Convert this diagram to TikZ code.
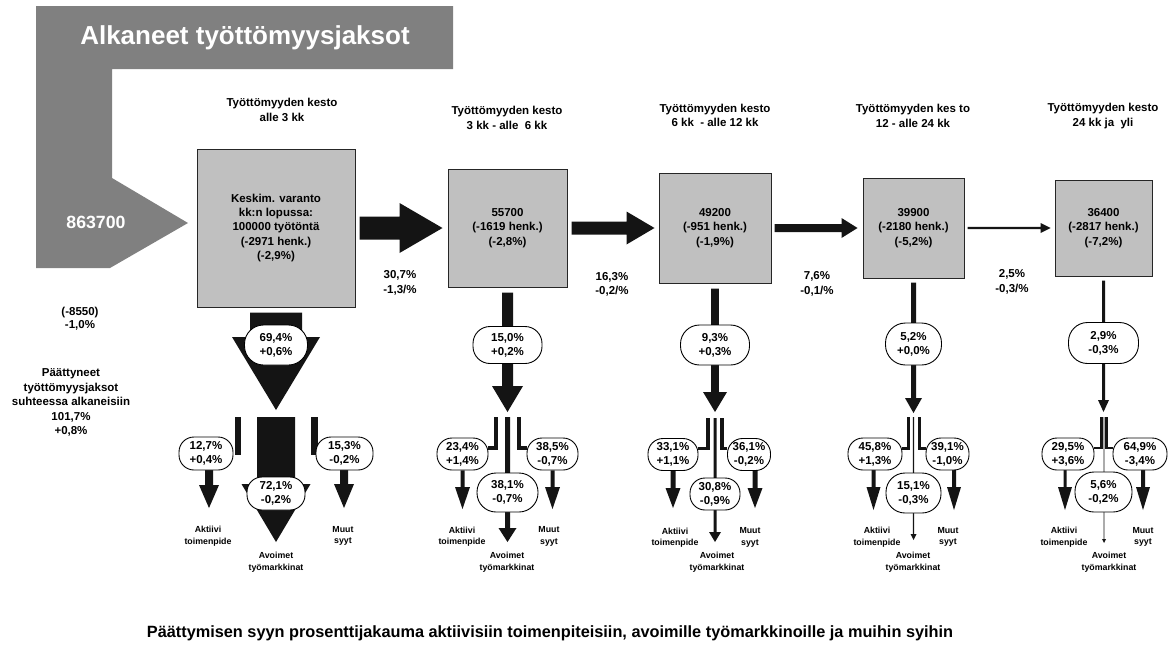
\documentclass[tikz,border=0pt]{standalone}
\usepackage{fontspec}
\setmainfont{Liberation Sans}
\usetikzlibrary{calc}
\pgfdeclarelayer{bottom}
\pgfdeclarelayer{background}
\pgfsetlayers{bottom,background,main}
\definecolor{biggray}{RGB}{128,128,128}
\definecolor{boxgray}{RGB}{192,192,192}
\definecolor{flowblack}{RGB}{20,20,20}
\newcommand{\rarrow}[5]{\fill[flowblack] ($(#1)+(0,-#3)$) -- ($(#2)+(-#5,-#3)$) -- ($(#2)+(-#5,-#4)$) -- (#2) -- ($(#2)+(-#5,#4)$) -- ($(#2)+(-#5,#3)$) -- ($(#1)+(0,#3)$) -- cycle;}
\newcommand{\darrow}[5]{\fill[flowblack] ($(#1)+(-#3,0)$) -- ($(#2)+(-#3,-#5)$) -- ($(#2)+(-#4,-#5)$) -- (#2) -- ($(#2)+(#4,-#5)$) -- ($(#2)+(#3,-#5)$) -- ($(#1)+(#3,0)$) -- cycle;}
\tikzset{
  txt/.style={font=\fontsize{11.5}{14.5}\selectfont\bfseries, align=center, inner sep=0pt},
  smalltxt/.style={font=\fontsize{8.8}{11.5}\selectfont\bfseries, align=center, inner sep=0pt},
  stockbox/.style={draw=black!85, line width=1pt, fill=boxgray, inner sep=0pt, align=center,
    font=\fontsize{11.5}{14.3}\selectfont\bfseries},
  ovl/.style={draw=black, line width=0.9pt, fill=white, inner sep=0pt, align=center,
    font=\fontsize{11.5}{14}\selectfont\bfseries, minimum height=40pt, rounded corners=19pt},
  ovs/.style={draw=black, line width=0.9pt, fill=white, inner sep=0pt, align=center,
    font=\fontsize{11.5}{14}\selectfont\bfseries, minimum height=32pt, rounded corners=15pt},
  lbar/.style={draw=flowblack, line join=miter},
}
\begin{document}
\begin{tikzpicture}[x=1pt,y=-1pt]
\useasboundingbox (0,0) rectangle (1173,672);
\begin{pgfonlayer}{bottom}
\fill[white] (0,0) rectangle (1173,672);
\end{pgfonlayer}

% big incoming arrow
\fill[biggray] (36,6) -- (453,6) -- (453,69) -- (112,69) -- (112,178) -- (188,223) -- (110,268) -- (36,268) -- cycle;
\node[font=\fontsize{26}{30}\selectfont\bfseries, text=white, inner sep=0pt] (title) at (245,38) {Alkaneet työttömyysjaksot};
\node[font=\fontsize{17.7}{20}\selectfont\bfseries, text=white, inner sep=0pt] (inflow) at (96,222) {863700};

% headers
\node[txt] (h1) at (282,110) {Työttömyyden kesto\\alle 3 kk};
\node[txt] (h2) at (507,118) {Työttömyyden kesto\\3 kk - alle\ \ 6 kk};
\node[txt] (h3) at (715,115.5) {Työttömyyden kesto\\6 kk\ \ - alle 12 kk};
\node[txt] (h4) at (913,116) {Työttömyyden kes to\\12 - alle 24 kk};
\node[txt] (h5) at (1103,116) {Työttömyyden kesto\\24 kk ja\ \ yli};

% stock boxes
\node[stockbox, minimum width=158pt, minimum height=158pt] (b1) at (276,228) {Keskim. varanto\\kk:n lopussa:\\100000 työtöntä\\(-2971 henk.)\\(-2,9\%)};
\node[stockbox, minimum width=119pt, minimum height=118pt] (b2) at (507.5,228) {55700\\(-1619 henk.)\\(-2,8\%)};
\node[stockbox, minimum width=112pt, minimum height=110pt] (b3) at (715,228) {49200\\(-951 henk.)\\(-1,9\%)};
\node[stockbox, minimum width=101pt, minimum height=100pt] (b4) at (913.5,228) {39900\\(-2180 henk.)\\(-5,2\%)};
\node[stockbox, minimum width=97pt, minimum height=96pt] (b5) at (1103.5,228) {36400\\(-2817 henk.)\\(-7,2\%)};

% transition labels
\node[txt] (t1) at (400,283) {30,7\%\\-1,3/\%};
\node[txt] (t2) at (612,284.5) {16,3\%\\-0,2/\%};
\node[txt] (t3) at (817,284) {7,6\%\\-0,1/\%};
\node[txt] (t4) at (1012,282) {2,5\%\\-0,3/\%};

% left texts
\node[txt, font=\fontsize{11.5}{13}\selectfont\bfseries] (chg) at (80,318.5) {(-8550)\\-1,0\%};
\node[txt] (ended) at (71,402.5) {Päättyneet\\työttömyysjaksot\\suhteessa alkaneisiin\\101,7\%\\+0,8\%};

% upper ovals
\node[ovl, minimum width=63pt] (u1) at (276,345) {69,4\%\\+0,6\%};
\node[ovl, minimum width=69pt, minimum height=37pt, rounded corners=17pt] (u2) at (507.5,345) {15,0\%\\+0,2\%};
\node[ovl, minimum width=69pt] (u3) at (715,345) {9,3\%\\+0,3\%};
\node[ovl, minimum width=56pt, minimum height=42pt, rounded corners=20pt] (u4) at (913.5,344) {5,2\%\\+0,0\%};
\node[ovl, minimum width=70pt, minimum height=41pt] (u5) at (1103.5,343) {2,9\%\\-0,3\%};

% lower ovals
\node[ovs, minimum width=54pt, minimum height=33pt] (a1) at (206,453.5) {12,7\%\\+0,4\%};
\node[ovs, minimum width=58pt, minimum height=33pt] (m1) at (276,493.5) {72,1\%\\-0,2\%};
\node[ovs, minimum width=57pt, minimum height=33pt] (r1) at (344.5,453.5) {15,3\%\\-0,2\%};

\node[ovs, minimum width=51pt] (a2) at (462.5,454) {23,4\%\\+1,4\%};
\node[ovl, minimum width=61pt, minimum height=39pt] (m2) at (507.5,492.5) {38,1\%\\-0,7\%};
\node[ovs, minimum width=51pt] (r2) at (552.5,454) {38,5\%\\-0,7\%};

\node[ovs, minimum width=50pt] (a3) at (673,454.5) {33,1\%\\+1,1\%};
\node[ovs, minimum width=50pt] (m3) at (715,494) {30,8\%\\-0,9\%};
\node[ovs, minimum width=43pt] (r3) at (749,454.5) {36,1\%\\-0,2\%};

\node[ovs, minimum width=54pt] (a4) at (875,454) {45,8\%\\+1,3\%};
\node[ovl, minimum width=55pt] (m4) at (913.5,493) {15,1\%\\-0,3\%};
\node[ovs, minimum width=43pt] (r4) at (947.5,454) {39,1\%\\-1,0\%};

\node[ovs, minimum width=52pt] (a5) at (1068,454) {29,5\%\\+3,6\%};
\node[ovl, minimum width=57pt] (m5) at (1103.5,492) {5,6\%\\-0,2\%};
\node[ovs, minimum width=54pt] (r5) at (1140,454) {64,9\%\\-3,4\%};

% destination labels
\node[smalltxt] (ak1) at (208,536) {Aktiivi\\toimenpide};
\node[smalltxt] (mu1) at (343,536) {Muut\\syyt};
\node[smalltxt] (av1) at (276,562) {Avoimet\\työmarkkinat};
\node[smalltxt] (ak2) at (462,536.5) {Aktiivi\\toimenpide};
\node[smalltxt] (mu2) at (549,536.5) {Muut\\syyt};
\node[smalltxt] (av2) at (507,562) {Avoimet\\työmarkkinat};
\node[smalltxt] (ak3) at (675,537.5) {Aktiivi\\toimenpide};
\node[smalltxt] (mu3) at (750,537.5) {Muut\\syyt};
\node[smalltxt] (av3) at (717,562) {Avoimet\\työmarkkinat};
\node[smalltxt] (ak4) at (877,537) {Aktiivi\\toimenpide};
\node[smalltxt] (mu4) at (948,537) {Muut\\syyt};
\node[smalltxt] (av4) at (913,562) {Avoimet\\työmarkkinat};
\node[smalltxt] (ak5) at (1064,537) {Aktiivi\\toimenpide};
\node[smalltxt] (mu5) at (1143,537) {Muut\\syyt};
\node[smalltxt] (av5) at (1109,562) {Avoimet\\työmarkkinat};

% caption
\node[font=\fontsize{16.3}{19}\selectfont\bfseries, inner sep=0pt] (cap) at (550,633) {Päättymisen syyn prosenttijakauma aktiivisiin toimenpiteisiin, avoimille työmarkkinoille ja muihin syihin};

% ---------- flows (behind) ----------
\begin{pgfonlayer}{background}
% horizontal transitions
\coordinate (h1s) at ($(b1.east)+(4,0)$);   \coordinate (h1t) at ($(b2.west)+(-5,0)$);
\coordinate (h2s) at ($(b2.east)+(4,0)$);   \coordinate (h2t) at ($(b3.west)+(-4,0)$);
\coordinate (h3s) at ($(b3.east)+(3,0)$);   \coordinate (h3t) at ($(b4.west)+(-5,0)$);
\coordinate (h4s) at ($(b4.east)+(3,0)$);   \coordinate (h4t) at ($(b5.west)+(-4,0)$);
\rarrow{h1s}{h1t}{11.5}{25}{43}
\rarrow{h2s}{h2t}{6.5}{16.5}{28}
\rarrow{h3s}{h3t}{4}{10}{16}
\rarrow{h4s}{h4t}{1.1}{5}{10}

% exits from boxes
\coordinate (e1s) at ($(b1.south)+(0,5)$); \coordinate (e1t) at (276,410);
\coordinate (e2s) at ($(b2.south)+(0,5)$); \coordinate (e2t) at (507.5,412);
\coordinate (e3s) at ($(b3.south)+(0,5)$); \coordinate (e3t) at (715,412);
\coordinate (e4s) at ($(b4.south)+(0,4)$); \coordinate (e4t) at (913.5,413);
\coordinate (e5s) at ($(b5.south)+(0,4)$); \coordinate (e5t) at (1103.5,412);
\darrow{e1s}{e1t}{26}{44}{73}
\darrow{e2s}{e2t}{5.5}{15.5}{26}
\darrow{e3s}{e3t}{3.8}{12}{20}
\darrow{e4s}{e4t}{2.5}{8.5}{15}
\darrow{e5s}{e5t}{1.5}{5.5}{12}

% column 1 split
\fill[flowblack] (235,417) rectangle (241,455);
\fill[flowblack] (311,417) rectangle (318,455);
\coordinate (c1m) at (276,417); \coordinate (c1mt) at (276,542);
\darrow{c1m}{c1mt}{19}{34.5}{58}
\coordinate (c1as) at (209,470); \coordinate (c1at) at (209,508);
\coordinate (c1rs) at (344,470); \coordinate (c1rt) at (344,508);
\darrow{c1as}{c1at}{4}{10}{23}
\darrow{c1rs}{c1rt}{4}{10}{24}

% column 2 split
\coordinate (c2m) at (507.5,417); \coordinate (c2mt) at (507.5,542);
\darrow{c2m}{c2mt}{2.5}{9}{14}
\draw[lbar, line width=4pt] (496,417) |- ($(a2.east)+(0,-6)$);
\draw[lbar, line width=4pt] (519,417) |- ($(r2.west)+(0,-6)$);
\coordinate (c2as) at (a2.south); \coordinate (c2at) at (462.5,509);
\coordinate (c2rs) at (r2.south); \coordinate (c2rt) at (552.5,509);
\darrow{c2as}{c2at}{2}{7.5}{22}
\darrow{c2rs}{c2rt}{2}{7.5}{22}

% column 3 split
\coordinate (c3m) at (715,418); \coordinate (c3mt) at (715,542);
\darrow{c3m}{c3mt}{1.5}{6}{10}
\draw[lbar, line width=3.5pt] (708,418) |- ($(a3.east)+(0,-6)$);
\draw[lbar, line width=3.5pt] (722,418) |- ($(r3.west)+(0,-6)$);
\coordinate (c3as) at (673,470); \coordinate (c3at) at (673,508);
\coordinate (c3rs) at (755,470); \coordinate (c3rt) at (755,508);
\darrow{c3as}{c3at}{2.5}{7.5}{20}
\darrow{c3rs}{c3rt}{2.5}{7.5}{20}

% column 4 split
\coordinate (c4m) at (913.5,417); \coordinate (c4mt) at (913.5,540);
\darrow{c4m}{c4mt}{0.6}{3}{6}
\draw[lbar, line width=3pt] (908,417) |- ($(a4.east)+(0,-6)$);
\draw[lbar, line width=3pt] (919,417) |- ($(r4.west)+(0,-6)$);
\coordinate (c4as) at (873.5,470); \coordinate (c4at) at (873.5,510);
\coordinate (c4rs) at (954,470); \coordinate (c4rt) at (954,510);
\darrow{c4as}{c4at}{2}{7}{23}
\darrow{c4rs}{c4rt}{2}{7}{23}

% column 5 split
\coordinate (c5m) at (1104,417); \coordinate (c5mt) at (1104,543);
\darrow{c5m}{c5mt}{0.4}{2}{4}
\draw[lbar, line width=2.5pt] (1101.5,417) |- ($(a5.east)+(0,-6)$);
\draw[lbar, line width=2.5pt] (1106.5,417) |- ($(r5.west)+(0,-6)$);
\coordinate (c5as) at (1065,470); \coordinate (c5at) at (1065,510);
\coordinate (c5rs) at (1143,470); \coordinate (c5rt) at (1143,510);
\darrow{c5as}{c5at}{1.5}{7}{23}
\darrow{c5rs}{c5rt}{2}{7}{23}
\end{pgfonlayer}
\end{tikzpicture}
\end{document}
